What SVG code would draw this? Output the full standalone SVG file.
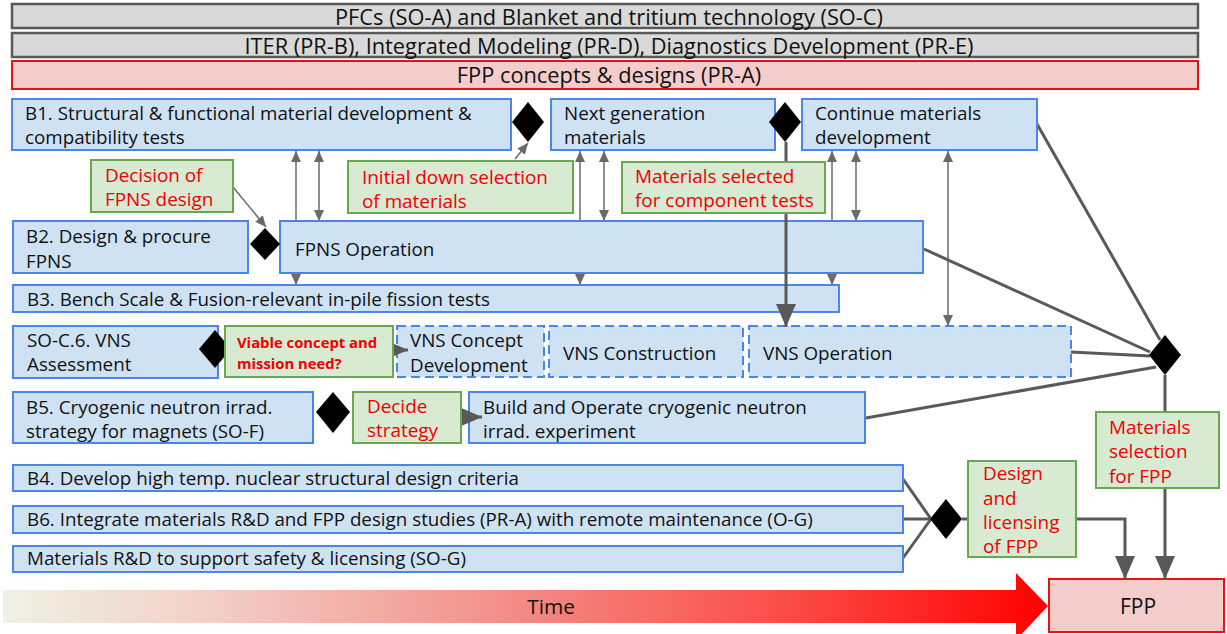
<svg xmlns="http://www.w3.org/2000/svg" width="1227" height="634" viewBox="0 0 1227 634">
<defs>
<style>
text{font-family:"Open Sans",Lato,"Liberation Sans",sans-serif;fill:#111}
.bar{fill:#d9d9d9;stroke:#595959;stroke-width:2.5}
.pbar{fill:#f4cccc;stroke:#e81010;stroke-width:2}
.b{fill:#cfe2f3;stroke:#4a86e8;stroke-width:2}
.bd{fill:#cfe2f3;stroke:#4a86e8;stroke-width:2;stroke-dasharray:9 5}
.g{fill:#d9ead3;stroke:#6aa84f;stroke-width:2}
.t{font-size:18.8px}
.tt{font-size:21.8px}
.r{fill:#ee0000;font-size:18.9px}
.rs{fill:#ee0000;font-size:14.8px;font-weight:bold}
.dia{fill:#000}
.thin{stroke:#6a6a6a;stroke-width:1.5;fill:none}
.thick{stroke:#595959;stroke-width:3;fill:none}
</style>
<marker id="ah" markerUnits="userSpaceOnUse" markerWidth="12" markerHeight="12" viewBox="0 0 12 12" refX="11" refY="6" orient="auto-start-reverse"><path d="M0,1 L11,6 L0,11 Z" fill="#6a6a6a"/></marker>
<marker id="AH" markerUnits="userSpaceOnUse" markerWidth="24" markerHeight="22" viewBox="0 0 24 22" refX="23" refY="11" orient="auto"><path d="M0,1 L23,11 L0,21 Z" fill="#595959"/></marker>
<linearGradient id="tg" gradientUnits="userSpaceOnUse" x1="0" y1="0" x2="1048" y2="0">
<stop offset="0" stop-color="#eef2e4"/>
<stop offset="0.2" stop-color="#f3cfc8"/>
<stop offset="0.45" stop-color="#f2968f"/>
<stop offset="0.75" stop-color="#fb4c47"/>
<stop offset="1" stop-color="#ff0000"/>
</linearGradient>
</defs>
<rect width="1227" height="634" fill="#fff"/>

<g id="time-arrow">
<polygon points="3,590 1016,590 1016,573 1048,606 1016,640 1016,623 3,623" fill="url(#tg)"/>
<text x="551" y="614" font-size="20.8px" text-anchor="middle">Time</text>
</g>

<g id="bar-so">
<rect class="bar" x="12" y="4" width="1186" height="24"/>
<text x="609" y="24.5" class="tt" text-anchor="middle">PFCs (SO-A) and Blanket and tritium technology (SO-C)</text>
</g>
<g id="bar-pr">
<rect class="bar" x="12" y="33" width="1186" height="24"/>
<text x="609" y="53.5" class="tt" text-anchor="middle">ITER (PR-B), Integrated Modeling (PR-D), Diagnostics Development (PR-E)</text>
</g>
<g id="bar-pra">
<rect class="pbar" x="12" y="61" width="1186" height="28"/>
<text x="609" y="83" class="tt" text-anchor="middle">FPP concepts &amp; designs (PR-A)</text>
</g>

<g id="connectors-back">
<line class="thin" x1="296" y1="151" x2="296" y2="285" marker-start="url(#ah)" marker-end="url(#ah)"/>
<line class="thin" x1="319" y1="151" x2="319" y2="221" marker-start="url(#ah)" marker-end="url(#ah)"/>
<line class="thin" x1="580" y1="151" x2="580" y2="285" marker-start="url(#ah)" marker-end="url(#ah)"/>
<line class="thin" x1="604" y1="151" x2="604" y2="221" marker-start="url(#ah)" marker-end="url(#ah)"/>
<line class="thin" x1="832" y1="151" x2="832" y2="285" marker-start="url(#ah)" marker-end="url(#ah)"/>
<line class="thin" x1="856" y1="151" x2="856" y2="221" marker-start="url(#ah)" marker-end="url(#ah)"/>
<line class="thin" x1="948" y1="151" x2="948" y2="326" marker-start="url(#ah)" marker-end="url(#ah)"/>
<line class="thick" x1="1037" y1="124" x2="1160" y2="340"/>
<line class="thick" x1="924" y1="249" x2="1150" y2="352"/>
<line class="thick" x1="1071" y1="352" x2="1150" y2="356"/>
<line class="thick" x1="866" y1="418" x2="1156" y2="367"/>
<line class="thick" x1="903" y1="479" x2="931" y2="519"/>
<line class="thick" x1="903" y1="519" x2="931" y2="519"/>
<line class="thick" x1="903" y1="558" x2="931" y2="519"/>
<line class="thick" x1="962" y1="519" x2="968" y2="519"/>
<line class="thick" x1="1165" y1="375" x2="1165" y2="412"/>
</g>

<g id="b1"><rect class="b" x="12" y="99" width="499" height="51"/>
<text class="t" x="25" y="120">B1. Structural &amp; functional material development &amp;</text>
<text class="t" x="25" y="144">compatibility tests</text></g>
<g id="next-gen"><rect class="b" x="551" y="99" width="224" height="51"/>
<text class="t" x="564" y="120">Next generation</text>
<text class="t" x="564" y="144">materials</text></g>
<g id="continue"><rect class="b" x="802" y="99" width="235" height="51"/>
<text class="t" x="815" y="120">Continue materials</text>
<text class="t" x="815" y="144">development</text></g>
<g id="b2"><rect class="b" x="13" y="221" width="235" height="52"/>
<text class="t" x="26" y="243">B2. Design &amp; procure</text>
<text class="t" x="26" y="268">FPNS</text></g>
<g id="fpns-op"><rect class="b" x="280" y="221" width="643" height="52"/>
<text class="t" x="295" y="256">FPNS Operation</text></g>
<g id="b3"><rect class="b" x="13" y="285" width="826" height="27"/>
<text class="t" x="27" y="306">B3. Bench Scale &amp; Fusion-relevant in-pile fission tests</text></g>
<g id="vns-assess"><rect class="b" x="13" y="326" width="205" height="52"/>
<text class="t" x="27" y="347">SO-C.6. VNS</text>
<text class="t" x="27" y="371">Assessment</text></g>
<g id="vns-concept"><rect class="bd" x="397" y="326" width="147" height="51"/>
<text class="t" x="410" y="347">VNS Concept</text>
<text class="t" x="410" y="372">Development</text></g>
<g id="vns-constr"><rect class="bd" x="549" y="326" width="194" height="51"/>
<text class="t" x="563" y="360">VNS Construction</text></g>
<g id="vns-op"><rect class="bd" x="749" y="326" width="322" height="51"/>
<text class="t" x="763" y="360">VNS Operation</text></g>
<g id="b5"><rect class="b" x="13" y="392" width="300" height="51"/>
<text class="t" x="26" y="414">B5. Cryogenic neutron irrad.</text>
<text class="t" x="26" y="438">strategy for magnets (SO-F)</text></g>
<g id="build-cryo"><rect class="b" x="469" y="392" width="396" height="51"/>
<text class="t" x="483" y="414">Build and Operate cryogenic neutron</text>
<text class="t" x="483" y="438">irrad. experiment</text></g>
<g id="b4"><rect class="b" x="13" y="465" width="890" height="26"/>
<text class="t" x="27" y="485">B4. Develop high temp. nuclear structural design criteria</text></g>
<g id="b6"><rect class="b" x="13" y="506" width="890" height="27"/>
<text class="t" x="27" y="526">B6. Integrate materials R&amp;D and FPP design studies (PR-A) with remote maintenance (O-G)</text></g>
<g id="safety"><rect class="b" x="13" y="546" width="890" height="26"/>
<text class="t" x="27" y="565">Materials R&amp;D to support safety &amp; licensing (SO-G)</text></g>

<g id="fpp"><rect class="pbar" x="1049" y="579" width="175" height="53"/>
<text x="1138" y="614" font-size="21px" text-anchor="middle">FPP</text></g>

<g id="connectors-front">
<line class="thick" x1="786" y1="142" x2="786" y2="327" marker-end="url(#AH)"/>
<line class="thin" x1="233" y1="187" x2="266" y2="227" marker-end="url(#ah)"/>
<line class="thin" x1="515" y1="159" x2="528" y2="143" marker-end="url(#ah)"/>
<line class="thick" x1="393" y1="350" x2="408" y2="350" marker-end="url(#AH)"/>
<line class="thick" x1="461" y1="417" x2="482" y2="417" marker-end="url(#AH)"/>
<line class="thick" x1="1165" y1="488" x2="1165" y2="579" marker-end="url(#AH)"/>
<polyline class="thick" points="1076,519 1125,519 1125,579" marker-end="url(#AH)"/>
</g>

<g id="diamonds">
<polygon id="d-b1" class="dia" points="528,102 544,122 528,142 512,122"/>
<polygon id="d-ng" class="dia" points="785,102 801,122 785,142 769,122"/>
<polygon id="d-b2" class="dia" points="265,228 280,244 265,260 250,244"/>
<polygon id="d-vns" class="dia" points="215,330 231,349 215,368 199,349"/>
<polygon id="d-b5" class="dia" points="333,392 350,412 333,433 316,412"/>
<polygon id="d-fpp" class="dia" points="1165,335 1181,355 1165,375 1149,355"/>
<polygon id="d-lic" class="dia" points="946,499 962,519 946,539 930,519"/>
</g>

<g id="decision-fpns"><rect class="g" x="91" y="160" width="142" height="52"/>
<text class="r" x="105" y="182">Decision of</text>
<text class="r" x="105" y="206">FPNS design</text></g>
<g id="initial-sel"><rect class="g" x="348" y="161" width="225" height="52"/>
<text class="r" x="362" y="184">Initial down selection</text>
<text class="r" x="362" y="208">of materials</text></g>
<g id="mat-sel-comp"><rect class="g" x="622" y="162" width="203" height="51"/>
<text class="r" x="635" y="183">Materials selected</text>
<text class="r" x="635" y="207">for component tests</text></g>
<g id="viable"><rect class="g" x="225" y="326" width="168" height="51"/>
<text class="rs" x="237" y="348">Viable concept and</text>
<text class="rs" x="237" y="369">mission need?</text></g>
<g id="decide"><rect class="g" x="353" y="392" width="108" height="51"/>
<text class="r" x="367" y="413">Decide</text>
<text class="r" x="367" y="437">strategy</text></g>
<g id="mat-sel-fpp"><rect class="g" x="1096" y="412" width="123" height="76"/>
<text class="r" x="1109" y="434">Materials</text>
<text class="r" x="1109" y="458">selection</text>
<text class="r" x="1109" y="483">for FPP</text></g>
<g id="design-lic"><rect class="g" x="968" y="461" width="108" height="96"/>
<text class="r" x="983" y="480">Design</text>
<text class="r" x="983" y="505">and</text>
<text class="r" x="983" y="529">licensing</text>
<text class="r" x="983" y="553">of FPP</text></g>
</svg>
